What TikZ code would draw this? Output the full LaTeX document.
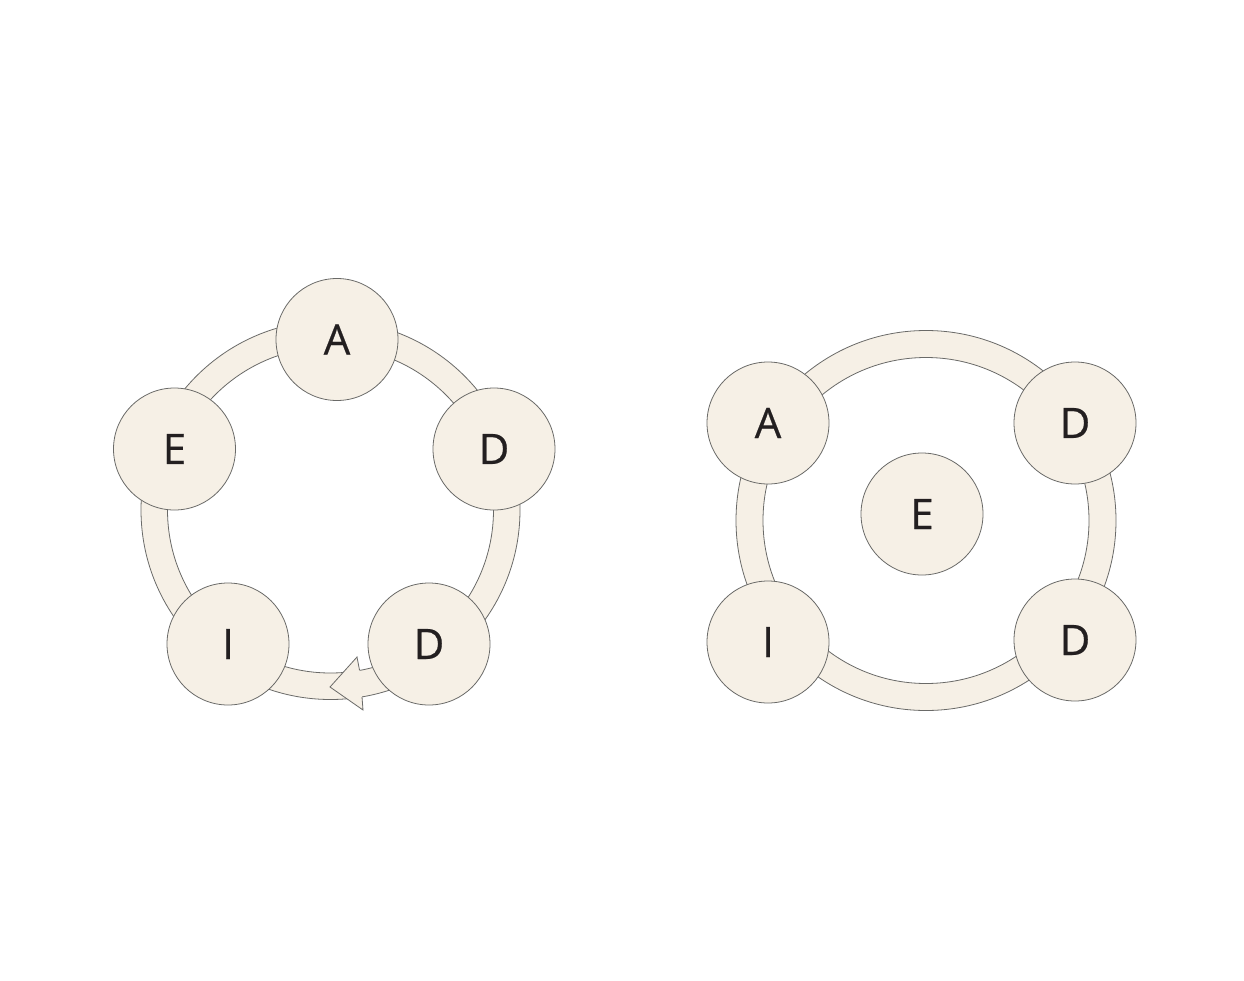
\documentclass[tikz,border=0pt]{standalone}
\usepackage{fontspec}
\newfontfamily\lblfont{Open Sans}[FakeBold=0.5]
\definecolor{cream}{HTML}{F6F0E6}
\definecolor{edge}{HTML}{6A6A68}
\definecolor{ink}{HTML}{231F20}
\tikzset{
  bubble/.style={circle, minimum size=122pt, inner sep=0pt, draw=edge, line width=0.8pt, fill=cream, text=ink, font=\lblfont\fontsize{42}{42}\selectfont},
  band/.style={fill=cream, draw=edge, line width=0.8pt, even odd rule},
  headfill/.style={fill=cream, draw=none},
  headline/.style={draw=edge, line width=0.8pt, line join=miter}
}
\begin{document}
\begin{tikzpicture}[x=1pt,y=-1pt]
\fill[white] (0,0) rectangle (1244,980);
\useasboundingbox (0,0) rectangle (1244,980);
% left ring
\path[band] (330.5,510) circle (189.5pt) (330.5,510) circle (163pt);
% arrowhead on the left ring
\coordinate (tip) at (330,687);
\coordinate (ub) at (357,657);
\coordinate (un) at (359.5,670);
\coordinate (ln) at (362,697);
\coordinate (lb) at (363,710);
\path[headfill] (tip) -- (ub) -- (un) -- (ln) -- (lb) -- cycle;
\draw[headline] (un) -- (ub) -- (tip) -- (lb) -- (ln);
% left nodes
\node[bubble] (la) at (337,339.5) {A};
\node[bubble] (ld1) at (494,449) {D};
\node[bubble] (ld2) at (429,644) {D};
\node[bubble] (li) at (228,644) {I};
\node[bubble] (le) at (174.5,449) {E};
% right ring
\path[band] (926,520.5) circle (190pt) (926,520.5) circle (163pt);
% right nodes
\node[bubble] (ra) at (768,423) {A};
\node[bubble] (rd1) at (1075,423) {D};
\node[bubble] (re) at (922,514) {E};
\node[bubble] (ri) at (768,642) {I};
\node[bubble] (rd2) at (1075,640) {D};
\end{tikzpicture}
\end{document}
